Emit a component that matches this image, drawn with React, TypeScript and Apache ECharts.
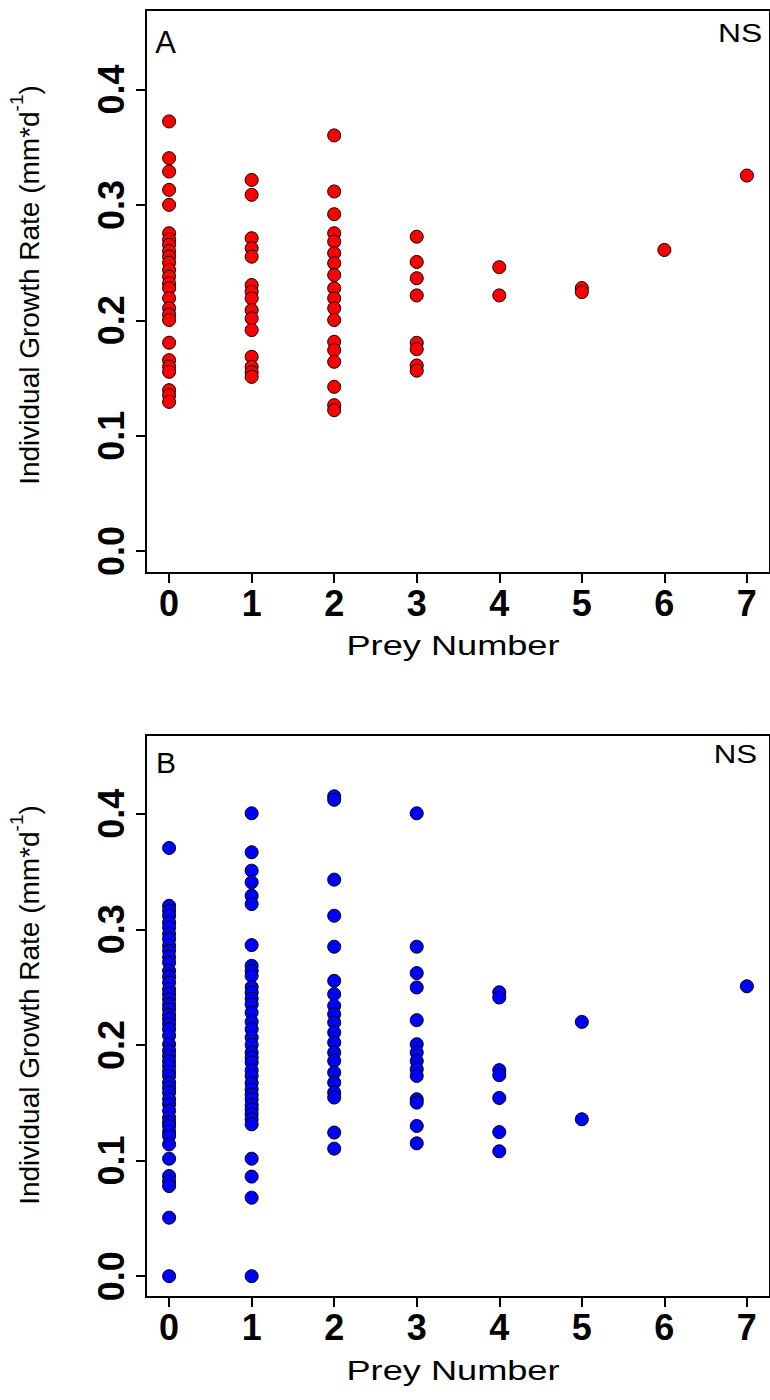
import React, { useEffect, useRef } from "react";
import * as echarts from "echarts";

// Panel A (red) – individual growth rate by prey number
const preyA0 = [0.3724, 0.3406, 0.329, 0.3131, 0.3001, 0.2755, 0.27, 0.2655, 0.26, 0.2552, 0.25, 0.2437, 0.2379, 0.232, 0.2278, 0.2192, 0.2105, 0.205, 0.2003, 0.1806, 0.1655, 0.16, 0.1554, 0.1395, 0.135, 0.1293];
const preyA1 = [0.3217, 0.3088, 0.2712, 0.2625, 0.2552, 0.2306, 0.2248, 0.2191, 0.2089, 0.2017, 0.1916, 0.1684, 0.1597, 0.155, 0.151];
const preyA2 = [0.3603, 0.3117, 0.292, 0.2755, 0.2682, 0.2582, 0.2495, 0.2393, 0.2278, 0.2191, 0.2104, 0.2003, 0.1814, 0.1742, 0.1641, 0.1424, 0.1265, 0.1221];
const preyA3 = [0.2725, 0.2506, 0.2365, 0.2216, 0.1805, 0.175, 0.1609, 0.1564];
const preyA4 = [0.2461, 0.2216];
const preyA5 = [0.228, 0.2245];
const preyA6 = [0.261];
const preyA7 = [0.3255];

// Panel B (blue)
const preyB0 = [0.3703, 0.3203, 0.316, 0.3117, 0.306, 0.3016, 0.296, 0.2915, 0.286, 0.2814, 0.276, 0.2713, 0.2641, 0.259, 0.254, 0.2482, 0.244, 0.2396, 0.235, 0.2309, 0.226, 0.2222, 0.218, 0.2136, 0.208, 0.2006, 0.195, 0.1905, 0.186, 0.1818, 0.177, 0.1732, 0.1674, 0.163, 0.1588, 0.153, 0.1487, 0.143, 0.1371, 0.133, 0.1299, 0.125, 0.1212, 0.114, 0.1016, 0.0866, 0.082, 0.0779, 0.0506, 0];
const preyB1 = [0.4003, 0.3666, 0.3507, 0.3406, 0.329, 0.3218, 0.2863, 0.2684, 0.264, 0.2597, 0.25, 0.2454, 0.24, 0.2352, 0.228, 0.22, 0.2136, 0.2064, 0.2, 0.1934, 0.189, 0.1848, 0.178, 0.1732, 0.167, 0.1616, 0.157, 0.153, 0.148, 0.1443, 0.14, 0.1357, 0.1313, 0.1016, 0.0861, 0.0679, 0];
const preyB2 = [0.415, 0.412, 0.3429, 0.3117, 0.2849, 0.2554, 0.2439, 0.2338, 0.2266, 0.2194, 0.2107, 0.2021, 0.1934, 0.1861, 0.1761, 0.1674, 0.1588, 0.1545, 0.1242, 0.1103];
const preyB3 = [0.4003, 0.2849, 0.2621, 0.2497, 0.2214, 0.2006, 0.1934, 0.1861, 0.179, 0.1732, 0.153, 0.1501, 0.1299, 0.1149];
const preyB4 = [0.2455, 0.241, 0.1782, 0.1738, 0.1541, 0.1246, 0.108];
const preyB5 = [0.2199, 0.1357];
const preyB6: number[] = [];
const preyB7 = [0.2507];

const preyNumbers = [0, 1, 2, 3, 4, 5, 6, 7];
const yTicks = [0, 0.1, 0.2, 0.3, 0.4];
const panelLabels = ["A", "B"];
const sigLabel = "NS";
const xTitle = "Prey Number";

const panelA = [preyA0, preyA1, preyA2, preyA3, preyA4, preyA5, preyA6, preyA7];
const panelB = [preyB0, preyB1, preyB2, preyB3, preyB4, preyB5, preyB6, preyB7];

const toPoints = (cols: number[][]) => {
  const pts: number[][] = [];
  cols.forEach((vals, i) => vals.forEach((v) => pts.push([preyNumbers[i], v])));
  return pts;
};

const FONT = "'Liberation Sans', Arial, Helvetica, sans-serif";

export default function App() {
  const ref = useRef<HTMLDivElement>(null);
  useEffect(() => {
    if (!ref.current) return;
    const chart = echarts.init(ref.current, null, { renderer: "svg" });
    const grids = [
      { left: 146, top: 10, width: 633, height: 563 },
      { left: 146, top: 735, width: 633, height: 562 },
    ];
    const yRanges = [
      [-0.019, 0.469],
      [-0.018, 0.468],
    ];
    const xAxis = grids.map((_, i) => ({
      type: "value",
      gridIndex: i,
      min: -0.28,
      max: 7.28,
      axisLine: { show: true, onZero: false, lineStyle: { color: "#000", width: 2 } },
      axisTick: { show: true, customValues: preyNumbers, length: 10, inside: false, lineStyle: { color: "#000", width: 2 } },
      axisLabel: {
        show: true,
        customValues: preyNumbers,
        fontSize: 36,
        fontWeight: "bold",
        fontFamily: FONT,
        color: "#000",
        margin: 12,
      },
      splitLine: { show: false },
    }));
    const yAxis = grids.map((_, i) => ({
      type: "value",
      gridIndex: i,
      min: yRanges[i][0],
      max: yRanges[i][1],
      axisLine: { show: true, onZero: false, lineStyle: { color: "#000", width: 2 } },
      axisTick: { show: true, customValues: yTicks, length: 10, inside: false, lineStyle: { color: "#000", width: 2 } },
      axisLabel: {
        show: true,
        customValues: yTicks,
        rotate: 90,
        fontSize: 36,
        fontWeight: "bold",
        fontFamily: FONT,
        color: "#000",
        margin: 17,
        formatter: (v: number) => v.toFixed(1),
      },
      splitLine: { show: false },
    }));
    const mkSeries = (cols: number[][], idx: number, color: string) => ({
      type: "scatter",
      xAxisIndex: idx,
      yAxisIndex: idx,
      data: toPoints(cols),
      symbol: "circle",
      symbolSize: 13,
      itemStyle: { color, borderColor: "#000", borderWidth: 1, opacity: 1 },
      emphasis: { disabled: true },
    });
    const yTitle = (y: number) => ({
      type: "text",
      x: 25,
      y,
      rotation: Math.PI / 2,
      style: {
        text: "{a|Individual Growth Rate (mm*d}{s|-1}{a|)}",
        textAlign: "center",
        textVerticalAlign: "middle",
        fill: "#000",
        rich: {
          a: { fontSize: 28, fontFamily: FONT, lineHeight: 36, fill: "#000", verticalAlign: "bottom" },
          s: { fontSize: 19, fontFamily: FONT, lineHeight: 36, fill: "#000", verticalAlign: "top" },
        },
      },
    });
    const textEl = (text: string, x: number, y: number, size: number, scaleX = 1) => ({
      type: "text",
      x,
      y,
      scaleX,
      style: {
        text,
        fontSize: size,
        fontFamily: FONT,
        fill: "#000",
        textAlign: "center",
        textVerticalAlign: "middle",
      },
    });
    chart.setOption({
      animation: false,
      backgroundColor: "#fff",
      grid: grids.map((g) => ({ ...g, show: true, borderColor: "#000", borderWidth: 2, backgroundColor: "transparent" })),
      xAxis,
      yAxis,
      series: [mkSeries(panelA, 0, "#ff0000"), mkSeries(panelB, 1, "#0000ff")],
      graphic: [
        yTitle(285),
        yTitle(1005),
        textEl(xTitle, 453, 646, 27, 1.34),
        textEl(xTitle, 453, 1371, 27, 1.34),
        textEl(panelLabels[0], 165.5, 42, 31),
        textEl(panelLabels[1], 166, 762, 30),
        textEl(sigLabel, 740, 32.5, 26.5, 1.2),
        textEl(sigLabel, 735.5, 754, 26, 1.2),
      ],
    });
    return () => chart.dispose();
  }, []);
  return (
    <div style={{ position: "absolute", left: 0, top: 0, width: 770, height: 1400, overflow: "hidden", background: "#fff" }}>
      <div ref={ref} style={{ width: 770, height: 1400 }} />
    </div>
  );
}
